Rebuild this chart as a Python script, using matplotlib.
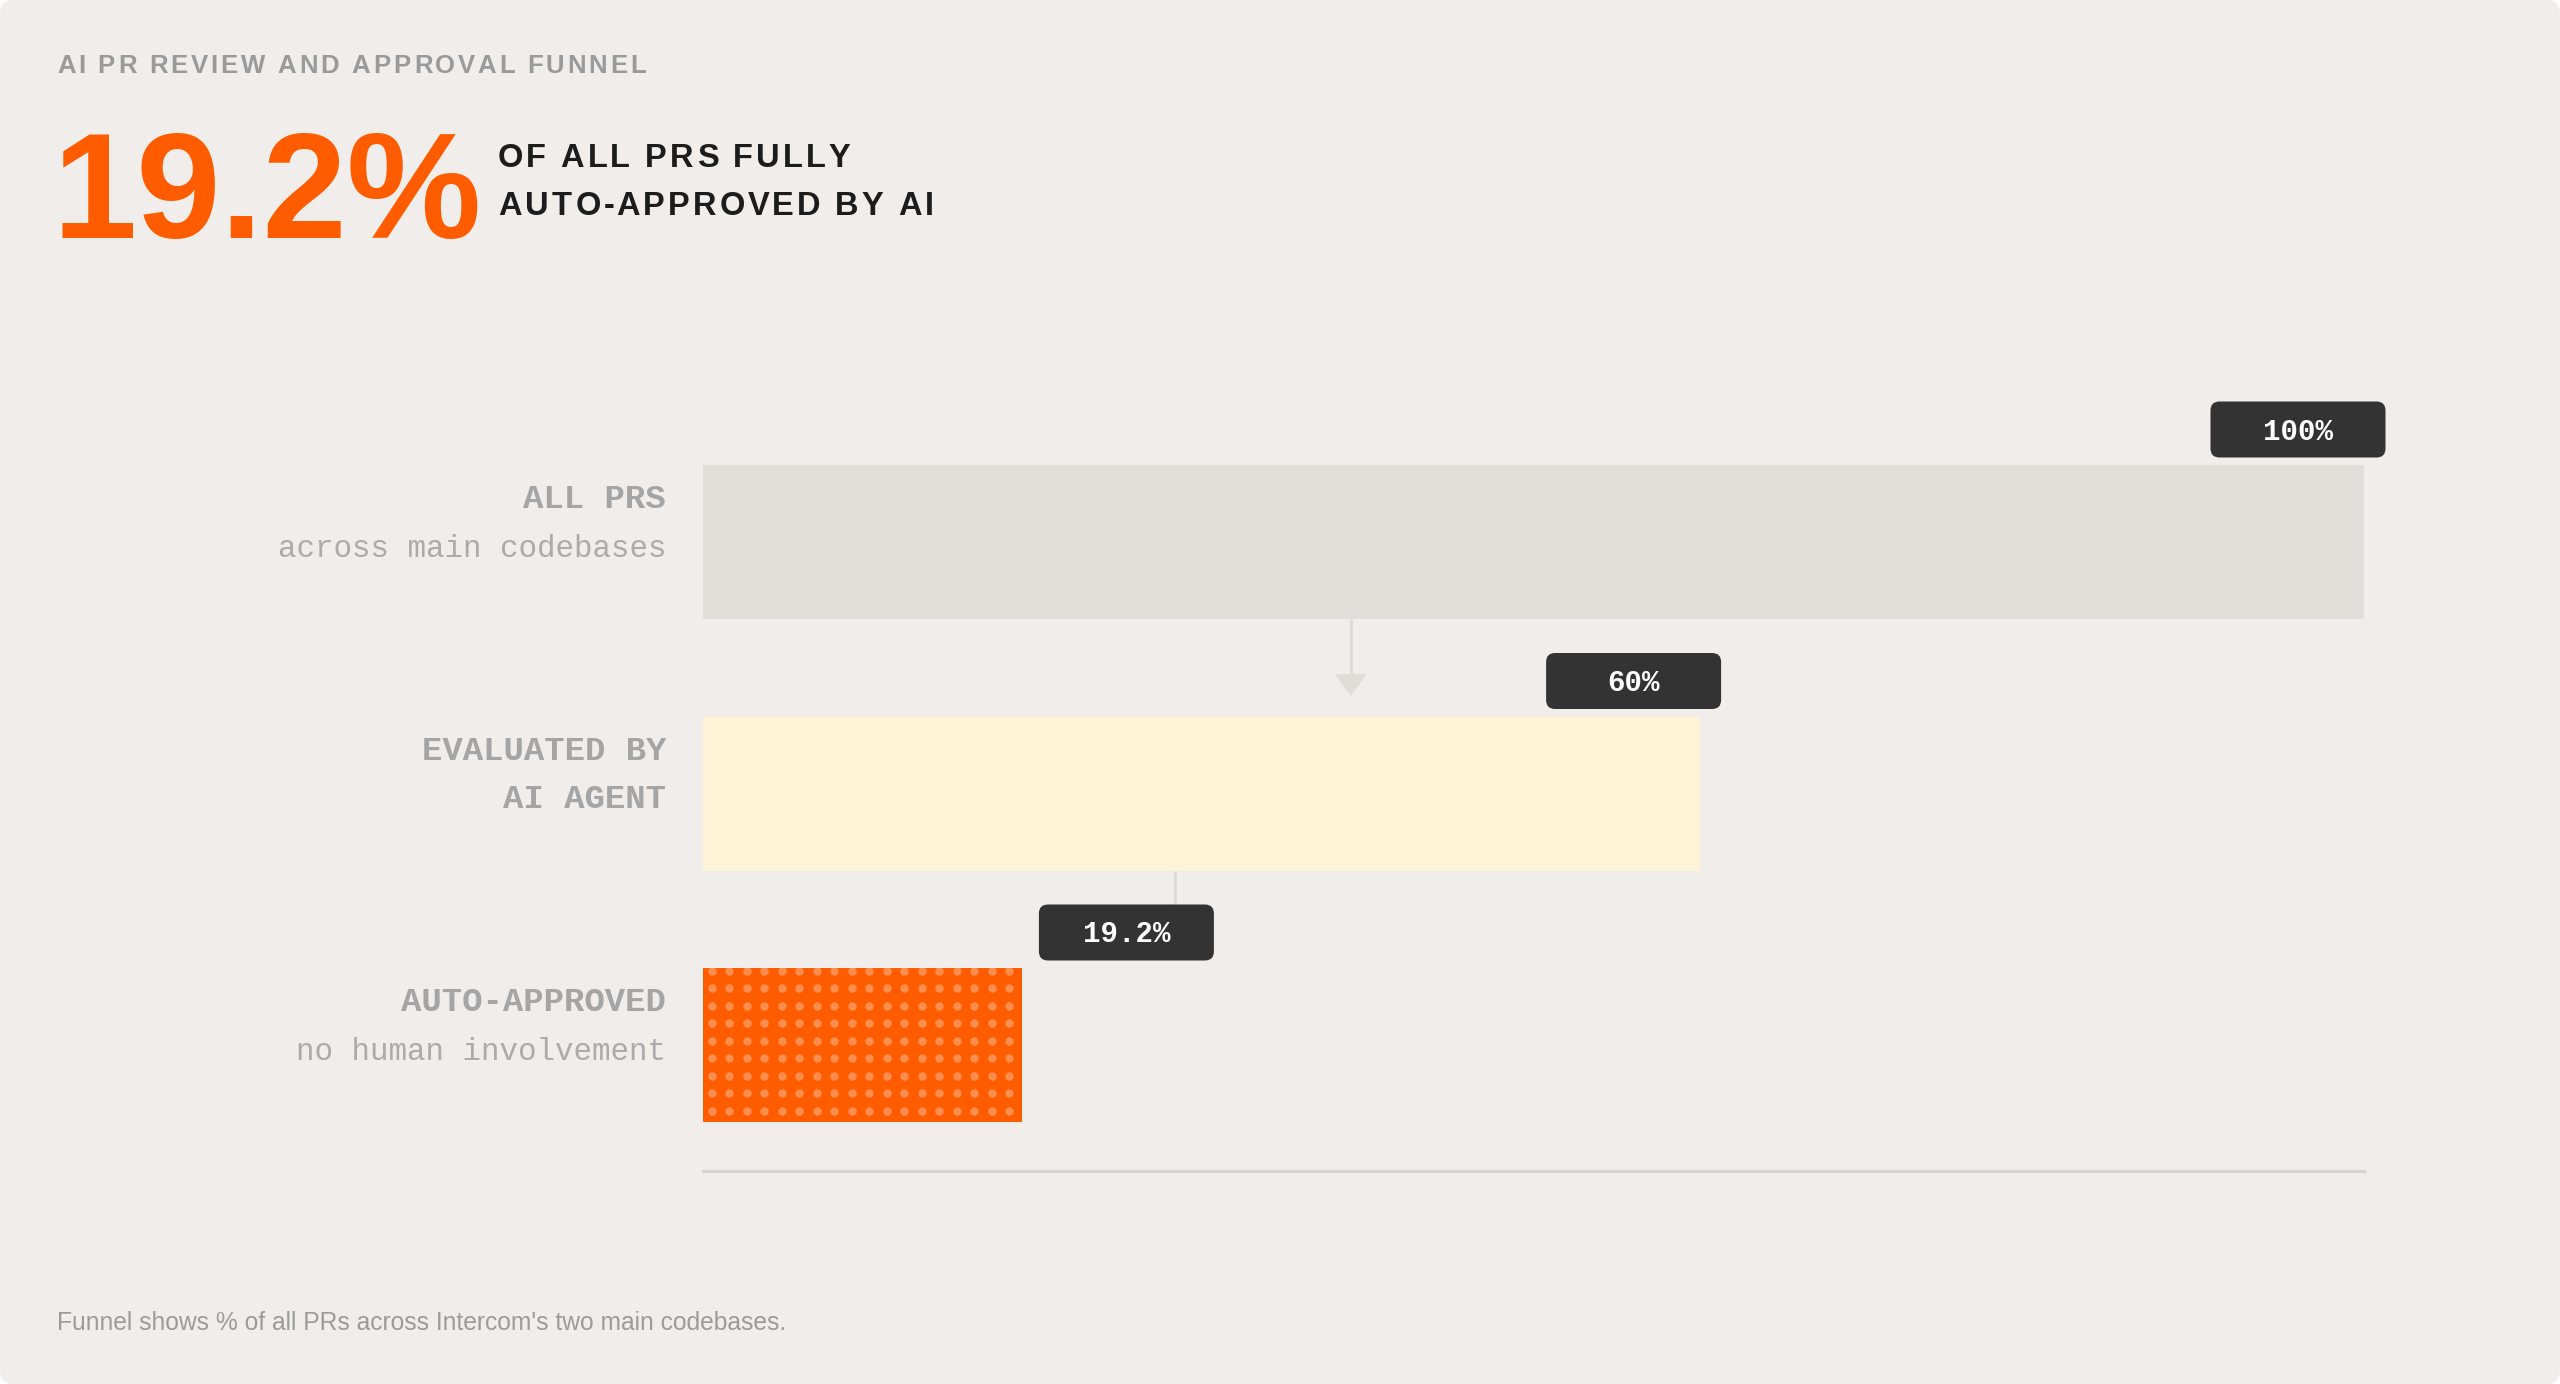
import numpy as np
import matplotlib
matplotlib.use("Agg")
import matplotlib.pyplot as plt
from matplotlib import font_manager
from matplotlib.ft2font import FT2Font
from matplotlib.patches import FancyBboxPatch, Polygon
from matplotlib.transforms import IdentityTransform

# ---- data
stages = ["ALL PRS", "EVALUATED BY", "AUTO-APPROVED"]
stage_line2 = ["", "AI AGENT", ""]
stage_notes = ["across main codebases", "", "no human involvement"]
shares = [100, 60, 19.2]
share_labels = ["100%", "60%", "19.2%"]
connector_x = [39.0, 28.4]

kicker = "AI PR REVIEW AND APPROVAL FUNNEL"
big_number = "19.2%"
headline = ["OF ALL PRS FULLY", "AUTO-APPROVED BY AI"]
footnote = "Funnel shows % of all PRs across Intercom's two main codebases."

# ---- style
BG = "#f0edea"
ORANGE = "#ff5c00"
DOTS = "#ff8d4d"
BAR_COLORS = ["#e2dfdb", "#fef3d6", ORANGE]
LABEL_GREY = "#a5a5a5"
NOTE_GREY = "#ababab"
PILL = "#333333"
LINE = "#dcd8d3"

W, H, DPI = 2560, 1384, 100
fig = plt.figure(figsize=(W / DPI, H / DPI), dpi=DPI, facecolor="white")
fig.patches.append(FancyBboxPatch((0, 0), W, H, boxstyle="round,pad=0,rounding_size=14",
                                  transform=IdentityTransform(), facecolor=BG,
                                  edgecolor="none", zorder=-10))


def px(x, y):
    # pixel position measured from the top-left corner -> figure fraction
    return x / W, 1 - y / H


def tracked(x, y, s, size, track, color, family="Liberation Sans", weight="bold"):
    # letter-spaced text, one glyph at a time
    prop = font_manager.FontProperties(family=family, weight=weight, size=size)
    font = FT2Font(font_manager.findfont(prop), hinting_factor=1)
    font.set_size(size, DPI)
    for ch in s:
        fig.text(*px(x, y), ch, fontproperties=prop, color=color, ha="left", va="baseline")
        x += font.load_char(ord(ch)).horiAdvance / 64 + track


# ---- header
tracked(57, 73, kicker, 18.5, 2.5, "#9a9a9a")
fig.text(*px(52, 238), big_number, fontsize=109, fontweight="bold", color=ORANGE,
         family="Liberation Sans", ha="left", va="baseline")
tracked(498, 167, headline[0], 23.5, 2.85, "#1c1c1c")
tracked(498, 215, headline[1], 23.5, 2.85, "#1c1c1c")
fig.text(*px(57, 1330), footnote, fontsize=17.7, color="#9b9b9b",
         family="Liberation Sans", ha="left", va="baseline")

# ---- funnel axes
row_pitch, row0 = 251.5, 542.0
ylim_top, ylim_bot = -0.8, 2.5
ax_top = row0 + ylim_top * row_pitch
ax_bot = row0 + ylim_bot * row_pitch
x_left, x_right = 703, 2364
ax = fig.add_axes([x_left / W, 1 - ax_bot / H, (x_right - x_left) / W, (ax_bot - ax_top) / H])
ax.set_facecolor("none")
ax.set_xlim(0, 100)
ax.set_ylim(ylim_bot, ylim_top)
for s in ["top", "left", "right"]:
    ax.spines[s].set_visible(False)
ax.spines["bottom"].set_color("#d6d3ce")
ax.spines["bottom"].set_linewidth(2.2)
ax.set_xticks([])
ax.set_yticks([])

bar_h = 154 / row_pitch
rows = np.arange(len(shares))
bars = ax.barh(rows, shares, height=bar_h, color=BAR_COLORS, left=0, zorder=2)

# dotted texture on the auto-approved bar
to_disp = ax.transData.transform
to_data = ax.transData.inverted().transform
last = bars[-1]
(bx0, by_top), (bx1, by_bot) = to_disp([(0, rows[-1] - bar_h / 2), (shares[-1], rows[-1] + bar_h / 2)])
pitch = 17.5
gx = np.arange(bx0 + pitch / 2, bx1, pitch)
gy = np.arange(by_top - 2.5, by_bot, -pitch)
XX, YY = np.meshgrid(gx, gy)
pts = to_data(np.column_stack([XX.ravel(), YY.ravel()]))
dots = ax.scatter(pts[:, 0], pts[:, 1], s=37, color=DOTS, linewidths=0, zorder=3)
dots.set_clip_path(last)

# connectors between stages
for i, cx in enumerate(connector_x):
    (lx, ly0), = to_disp([(cx, rows[i] + bar_h / 2)])
    tip = ly0 - 77
    ax.plot(*to_data([(lx, ly0), (lx, tip + 22)]).T, color=LINE, lw=1.9, zorder=1,
            solid_capstyle="butt")
    tri = to_data([(lx - 16, tip + 22), (lx + 16, tip + 22), (lx, tip)])
    ax.add_patch(Polygon(tri, closed=True, facecolor="#e0ddd8", edgecolor="none", zorder=1))

# value pills
pw, ph = 175, 56
for i, (v, lab) in enumerate(zip(shares, share_labels)):
    (ex, ey), = to_disp([(v, rows[i] - bar_h / 2)])
    left = ex + 17 if v < 25 else ex + 21.5 - pw
    bottom = ey + 7.5
    ax.add_patch(FancyBboxPatch((left, bottom), pw, ph, boxstyle="round,pad=0,rounding_size=9",
                                transform=IdentityTransform(), facecolor=PILL,
                                edgecolor="none", zorder=5, clip_on=False))
    ax.text(left + pw / 2, bottom + ph / 2 - 10, lab, transform=IdentityTransform(),
            family="Liberation Mono", fontweight="bold", fontsize=21, color="white",
            ha="center", va="baseline", zorder=6, clip_on=False)

# stage labels on the left
ytrans = ax.get_yaxis_transform()
for i in rows:
    lines = [stages[i]] + ([stage_line2[i]] if stage_line2[i] else [])
    for k, t in enumerate(lines):
        ax.annotate(t, xy=(0, i - bar_h / 2), xycoords=ytrans, xytext=(-37, -43 - 49 * k),
                    textcoords="offset pixels", ha="right", va="baseline",
                    family="Liberation Mono", fontweight="bold", fontsize=24.5, color=LABEL_GREY)
    if stage_notes[i]:
        ax.annotate(stage_notes[i], xy=(0, i - bar_h / 2), xycoords=ytrans, xytext=(-37, -92),
                    textcoords="offset pixels", ha="right", va="baseline",
                    family="Liberation Mono", fontsize=22.2, color=NOTE_GREY)

fig.savefig("out.png", dpi=DPI, facecolor=fig.get_facecolor())
